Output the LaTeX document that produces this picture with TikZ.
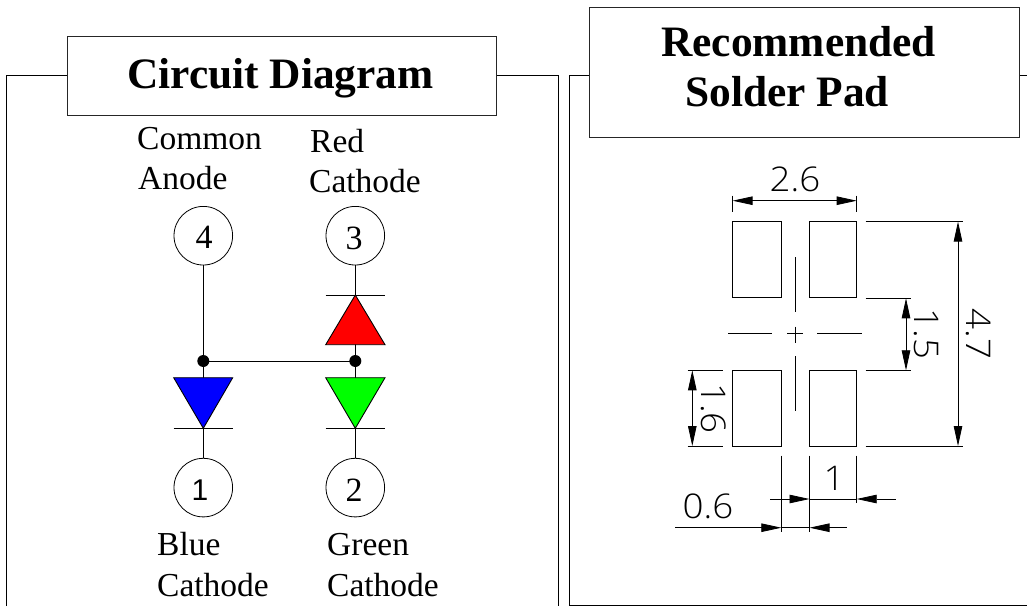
\documentclass[tikz,border=0pt]{standalone}
\usepackage{fontspec}
\setmainfont{Liberation Serif}
\newfontfamily\cadfont[FakeStretch=1.08]{Open Sans Light}
\newfontfamily\sansdigit{Liberation Sans}
\usetikzlibrary{arrows.meta}
\tikzset{
  x=1pt,y=-1pt,
  wire/.style={line width=0.9pt,black},
  titlebox/.style={draw=black!85,line width=1pt,fill=white,inner sep=0pt},
  titletext/.style={anchor=base west,inner sep=0pt,font=\fontsize{43.4}{50}\selectfont\bfseries},
  lab/.style={anchor=base west,inner sep=0pt,font=\fontsize{33.5}{40}\selectfont},
  pin/.style={circle,draw=black,line width=0.8pt,fill=white,minimum size=58.6pt,inner sep=0pt},
  digit/.style={inner sep=0pt,font=\fontsize{34}{40}\selectfont},
  pad/.style={draw=black,line width=0.9pt,inner sep=0pt,minimum width=48.6pt,minimum height=76pt},
  padb/.style={pad,minimum width=47.4pt},
  dim/.style={line width=0.8pt,black},
  tip/.style={dim,-{Triangle[length=20pt,width=8.5pt]}},
  tips/.style={dim,{Triangle[length=20pt,width=8.5pt]}-{Triangle[length=20pt,width=8.5pt]}},
  cad/.style={inner sep=0pt,font=\fontsize{34}{36}\cadfont\selectfont},
  center/.style={line width=0.7pt,black},
}
\begin{document}
\begin{tikzpicture}
\useasboundingbox (0,0) rectangle (1027,606);
% frames
\draw[wire] (6.5,606) -- (6.5,75.5) -- (558,75.5) -- (558,606);
\draw[wire] (1027,75) -- (569,75) -- (569,605) -- (1027,605);
\node[titlebox,minimum width=429.5pt,minimum height=79pt] (tl) at (282.2,76) {};
\node[titlebox,minimum width=429.5pt,minimum height=130.5pt] (tr) at (804.7,72.7) {};
\node[titletext] (t1) at (127,88) {Circuit Diagram};
\node[titletext] (t2) at (661,56.7) {Recommended};
\node[titletext] (t3) at (685,106) {Solder Pad};
% labels
\node[lab] (l1) at (137,149) {Common};
\node[lab] (l2) at (138,189) {Anode};
\node[lab] (l3) at (310,152.3) {Red};
\node[lab] (l4) at (309,192.7) {Cathode};
\node[lab] (l5) at (157,555) {Blue};
\node[lab] (l6) at (157,596) {Cathode};
\node[lab] (l7) at (327,555) {Green};
\node[lab] (l8) at (327,596) {Cathode};
% circuit
\coordinate (jl) at (203.3,361);
\coordinate (jr) at (355.3,361);
\node[pin] (p4) at (203.3,235.7) {};
\node[pin] (p3) at (355.3,235.7) {};
\node[pin] (p1) at (203.3,487.6) {};
\node[pin] (p2) at (355.3,487.6) {};
\node[digit] (d4) at (204,237.5) {4};
\node[digit] (d3) at (354,238) {3};
\node[inner sep=0pt,font=\fontsize{30}{34}\sansdigit\selectfont] (d1) at (200,490) {1};
\node[digit] (d2) at (354,490) {2};
\draw[wire] (p4) -- (jl) -- (p1);
\draw[wire] (p3) -- (jr) -- (p2);
\draw[wire] (jl) -- (jr);
\fill (jl) circle (6pt);
\fill (jr) circle (6pt);
\draw[wire,fill={rgb,255:red,0;green,0;blue,255}] (173.7,377.7) -- (232.7,377.7) -- (203.3,428.3) -- cycle;
\draw[wire,fill={rgb,255:red,0;green,255;blue,0}] (325.7,377.7) -- (385,377.7) -- (355.3,428.3) -- cycle;
\draw[wire,fill={rgb,255:red,255;green,0;blue,0}] (325.7,344.7) -- (385,344.7) -- (355.3,295) -- cycle;
\draw[wire] (173.7,428.3) -- (232.7,428.3);
\draw[wire] (325.7,428.3) -- (385,428.3);
\draw[wire] (325.7,295) -- (385,295);
% pads
\node[pad] (a) at (757,259.8) {};
\node[padb] (b) at (833,259.8) {};
\node[pad] (c) at (757,408.2) {};
\node[padb] (d) at (833,408.2) {};
% centre lines
\draw[center] (795.3,257) -- (795.3,311.7);
\draw[center] (795.3,356) -- (795.3,410.7);
\draw[center] (728,333.7) -- (772,333.7);
\draw[center] (817.3,333.7) -- (861.7,333.7);
\draw[center] (787,333.7) -- (802.7,333.7);
\draw[center] (795.3,326.7) -- (795.3,342.7);
% dimension 2.6
\draw[dim] (732.6,195.7) -- (732.6,212);
\draw[dim] (856.7,195.7) -- (856.7,212);
\draw[tips] (732.6,200.7) -- (856.7,200.7);
\node[cad] (n26) at (795,179.5) {2.6};
% dimension 4.7
\draw[dim] (865.7,221.6) -- (962.7,221.6);
\draw[dim] (865.7,446) -- (962.7,446);
\draw[tips] (958,221.6) -- (958,446);
\node[cad,rotate=-90] (n47) at (979,334) {4.7};
% dimension 1.5
\draw[dim] (865.7,298.3) -- (911,298.3);
\draw[dim] (865.7,370.3) -- (911,370.3);
\draw[tips] (906,298.3) -- (906,370.3);
\node[cad,rotate=-90] (n15) at (926.7,334) {1.5};
% dimension 1.6
\draw[dim] (687.7,370.3) -- (723.3,370.3);
\draw[dim] (687.7,446) -- (723.3,446);
\draw[tips] (692.3,370.3) -- (692.3,446);
\node[cad,rotate=-90] (n16) at (713.3,408.5) {1.6};
% dimension 1
\draw[dim] (781.3,455.7) -- (781.3,531.7);
\draw[dim] (809.5,455.7) -- (809.5,531.7);
\draw[dim] (856.7,455.7) -- (856.7,503);
\draw[dim] (809.5,499) -- (856.7,499);
\draw[tip] (770,499) -- (809.5,499);
\draw[tip] (895.7,499) -- (856.7,499);
\node[cad] (n1) at (834,478) {1};
% dimension 0.6
\draw[dim] (781.3,527.7) -- (809.5,527.7);
\draw[tip] (675,527.7) -- (781.3,527.7);
\draw[tip] (846.7,527.7) -- (809.5,527.7);
\node[cad] (n06) at (708,506) {0.6};
\end{tikzpicture}
\end{document}
